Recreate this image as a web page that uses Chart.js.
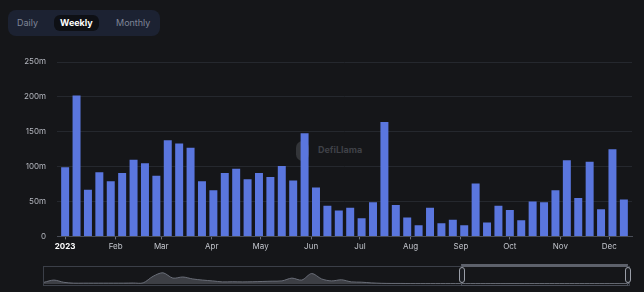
<!DOCTYPE html>
<html>
<head>
<meta charset="utf-8">
<script src="https://cdn.jsdelivr.net/npm/chart.js@4.4.0/dist/chart.umd.min.js"></script>
<style>
  html, body { margin: 0; padding: 0; background: #151619; width: 644px; height: 292px; overflow: hidden; font-family: 'Inter', sans-serif; }
  #toggle { position: absolute; left: 8px; top: 10px; width: 152px; height: 26px; background: #1c2232; border-radius: 8px; }
  #toggle span { position: absolute; top: 5px; height: 16px; line-height: 16px; font-size: 9px; color: #7f8597; }
  #toggle .on { background: #0e1015; color: #fff; font-weight: 700; border-radius: 6px; padding: 0 6px; }
  #mark { position: absolute; left: 296px; top: 141px; color: #3f4147; font-size: 9px; font-weight: 700; }
  #mark i { display: inline-block; width: 13px; height: 20px; border-radius: 7px; background: #333539; vertical-align: middle; margin-right: 9px; }
  #main { position: absolute; left: 0; top: 44px; width: 644px; height: 218px; }
  #slider { position: absolute; left: 43px; top: 266px; width: 587px; height: 20px; border: 1px solid #3b3f48; box-sizing: border-box; }
  #mini { position: absolute; left: 44px; top: 268px; width: 585px; height: 17px; }
  #win { position: absolute; left: 461px; top: 264px; width: 167px; height: 22px; border: 1px solid #4a4e58; border-top: 3px solid #5d616b; box-sizing: border-box; }
  .hd { position: absolute; top: 267px; width: 4px; height: 14px; border: 1px solid #9a9ea8; border-radius: 3px; background: #1b1d22; }
</style>
</head>
<body>
<div id="toggle">
  <span style="left:9px">Daily</span>
  <span class="on" style="left:46px">Weekly</span>
  <span style="left:108px">Monthly</span>
</div>
<div id="mark"><i></i>DefiLlama</div>
<div id="main"><canvas id="volume"></canvas></div>
<div id="slider"></div>
<div id="mini"><canvas id="miniChart"></canvas></div>
<div id="win"></div>
<div class="hd" style="left:459px"></div>
<div class="hd" style="left:625px"></div>
<script>
// weekly volume, millions, weeks starting 2023-01-01
const weeklyVolume = [
  99, 202, 67, 92, 79, 91, 110, 105, 87, 138, 133, 127, 79, 66, 91, 97, 82,
  91, 85, 101, 80, 148, 70, 44, 37, 41, 26, 49, 164, 45, 27, 16, 41, 19, 24,
  16, 76, 20, 44, 38, 23, 50, 49, 66, 109, 55, 107, 39, 125, 53,
];
const monthDays = [0, 31, 59, 90, 120, 151, 181, 212, 243, 273, 304, 334];
const monthLabels = ["2023", "Feb", "Mar", "Apr", "May", "Jun", "Jul", "Aug", "Sep", "Oct", "Nov", "Dec"];
const yTicks = [0, 50, 100, 150, 200, 250];

// overview strip (whole history, relative)
const overview = [
  12, 28, 12, 6, 6, 6, 6, 6, 6, 7, 8, 55, 80, 42, 50, 36, 28, 22, 15, 16,
  15, 16, 18, 20, 22, 42, 28, 75, 36, 22, 30, 15, 13, 8, 5, 4, 4, 3, 3, 3,
  3, 3, 3, 3, 3, 3, 3, 3, 3, 3, 3, 3, 3, 3, 3, 3, 3, 3, 3, 3,
];

const points = weeklyVolume.map((v, i) => ({ x: i * 7, y: v }));

Chart.defaults.font.family = "'Inter','sans-serif'";
Chart.defaults.font.size = 8;

const volumectx = document.getElementById("volume").getContext("2d");
new Chart(volumectx, {
  type: "bar",
  data: {
    datasets: [
      {
        label: "Volume",
        data: points,
        backgroundColor: "#5a76de",
        categoryPercentage: 1,
        barPercentage: 0.7,
      },
    ],
  },
  options: {
    responsive: true,
    maintainAspectRatio: false,
    animation: false,
    layout: { padding: { top: 18, right: 12, bottom: 9, left: 0 } },
    plugins: { legend: { display: false }, tooltip: { enabled: false } },
    scales: {
      x: {
        type: "linear",
        offset: false,
        min: -5,
        max: 348,
        afterBuildTicks: (scale) => {
          scale.ticks = monthDays.map((d) => ({ value: d }));
        },
        ticks: {
          autoSkip: false,
          maxRotation: 0,
          padding: 2,
          callback: (v) => monthLabels[monthDays.indexOf(v)],
          color: (c) => (c.index === 0 ? "#ffffff" : "#c2c5cc"),
          font: (c) => ({ size: 8, weight: c.index === 0 ? "bold" : "normal" }),
        },
        grid: { drawOnChartArea: false, offset: false, tickLength: 3, color: "#6c707a" },
        border: { color: "#4a4e57" },
      },
      y: {
        min: 0,
        max: 250,
        afterBuildTicks: (scale) => {
          scale.ticks = yTicks.map((v) => ({ value: v }));
        },
        afterFit: (scale) => {
          scale.width = 57;
        },
        ticks: {
          padding: 11,
          color: "#b4b7bf",
          callback: (v) => (v === 0 ? "0" : v + "m"),
        },
        grid: { color: "#25282e", drawTicks: false },
        border: { display: false },
      },
    },
  },
});

const minictx = document.getElementById("miniChart").getContext("2d");
new Chart(minictx, {
  type: "line",
  data: {
    labels: overview.map((_, i) => i),
    datasets: [
      {
        data: overview,
        borderColor: "#6a6e78",
        borderWidth: 1,
        backgroundColor: "rgba(110,114,124,0.45)",
        fill: true,
        pointRadius: 0,
        tension: 0.3,
      },
    ],
  },
  options: {
    responsive: true,
    maintainAspectRatio: false,
    animation: false,
    layout: { padding: { top: 2, bottom: 1 } },
    plugins: { legend: { display: false }, tooltip: { enabled: false } },
    scales: {
      x: { display: false },
      y: { display: false, min: 0, max: 100 },
    },
  },
});
</script>
</body>
</html>
